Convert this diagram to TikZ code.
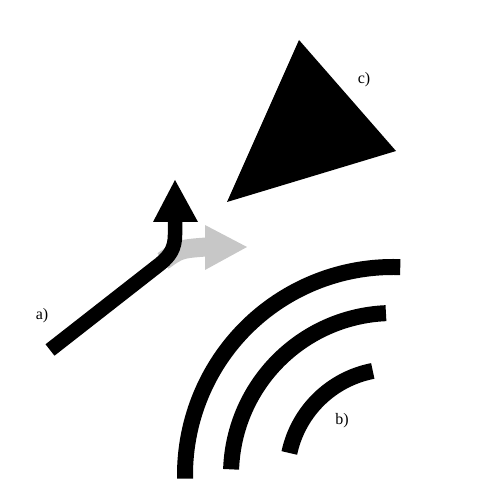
\documentclass[tikz,border=0pt]{standalone}
\usepackage{fontspec}
\setmainfont{Liberation Serif}
\begin{document}
\begin{tikzpicture}[x=1pt,y=1pt,
  lbl/.style={font=\fontsize{16}{18}\selectfont, inner sep=0pt},
  shaft/.style={line width=14.5pt, line cap=butt, line join=round},
  wave/.style={line width=16pt, line cap=butt},
  greyc/.style={color=black!22}]
\useasboundingbox (0,0) rectangle (500,500);
% triangle c)
\coordinate (t1) at (299,460);
\coordinate (t2) at (396,349);
\coordinate (t3) at (227,298);
\fill (t1) -- (t2) -- (t3) -- cycle;
\node[lbl] (c) at (364,420) {c)};
% grey arrow
\coordinate (g0) at (163,239);
\coordinate (g1) at (206,253);
\coordinate (gh1) at (205,275);
\coordinate (gh2) at (205,230);
\coordinate (gtip) at (247,253);
\draw[greyc, line width=19pt] (g0) .. controls (180,251) .. (g1);
\fill[greyc] (gh1) -- (gtip) -- (gh2) -- cycle;
% black arrow
\coordinate (a0) at (50,150);
\coordinate (a1) at (160,236);
\coordinate (a2) at (175,279);
\coordinate (ah1) at (153,278);
\coordinate (ah2) at (198,278);
\coordinate (atip) at (175,320);
\draw[shaft] (a0) -- (a1) .. controls (170,244) and (175,252) .. (175,265) -- (a2);
\fill (ah1) -- (atip) -- (ah2) -- cycle;
\node[lbl] (a) at (42,184) {a)};
% arcs b)
\coordinate (o) at (393,25);
\draw[wave] (o) ++(101:106) arc (101:168:106);
\draw[wave] (o) ++(92.5:162) arc (92.5:178:162);
\draw[wave] (o) ++(88:208) arc (88:181:208);
\node[lbl] (b) at (342,79) {b)};
\end{tikzpicture}
\end{document}
